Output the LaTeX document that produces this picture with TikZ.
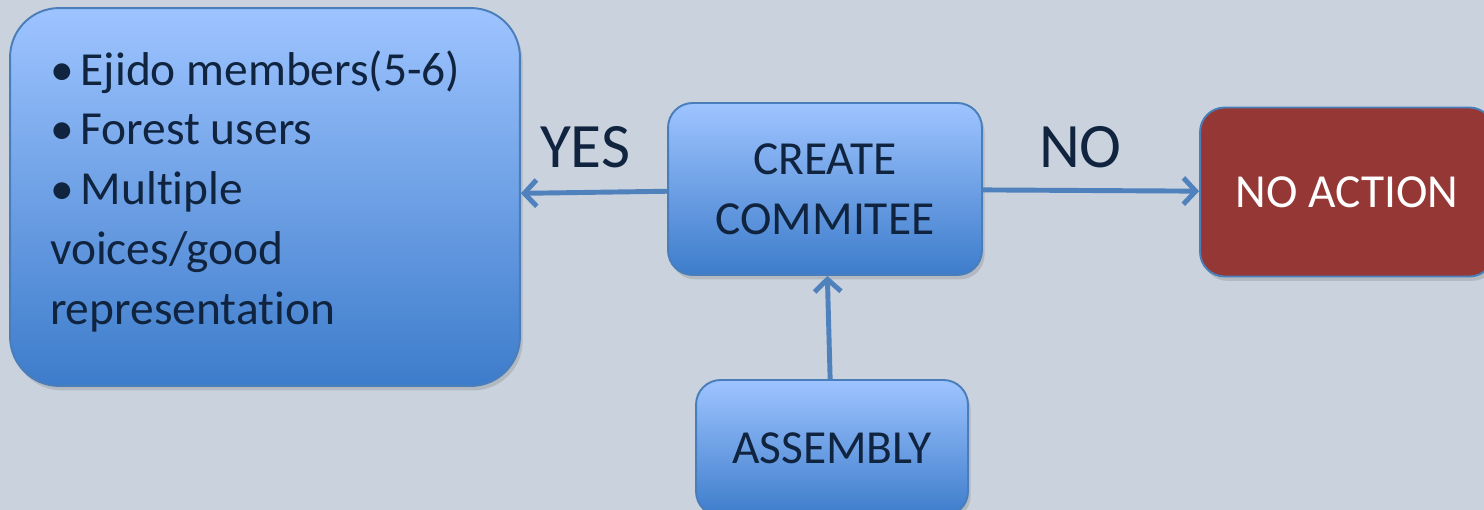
\documentclass[tikz,border=0pt]{standalone}
\usepackage{fontspec}
\setmainfont{Carlito}[Ligatures=NoCommon]
\usetikzlibrary{arrows.meta,shadows}
\definecolor{bgcol}{HTML}{C9D2DD}
\definecolor{boxtop}{HTML}{9EC4FF}
\definecolor{boxbot}{HTML}{3D7CCB}
\definecolor{edgecol}{HTML}{4A7EBB}
\definecolor{arrowcol}{HTML}{4F81BD}
\definecolor{inkcol}{HTML}{10243F}
\definecolor{redbox}{HTML}{953735}
\begin{document}
\begin{tikzpicture}[x=0.02cm,y=-0.02cm,
    stepbox/.style={draw=edgecol,line width=1.1pt,rounded corners=14pt,
      top color=boxtop,bottom color=boxbot,text=inkcol,align=center,
      font=\fontsize{27}{34}\selectfont,inner sep=0pt,
      drop shadow={opacity=0.3,shadow xshift=1.5pt,shadow yshift=-2.5pt}},
    flow/.style={draw=arrowcol,line width=2.8pt,
      -{Straight Barb[length=7pt,width=15pt]}},
    answer/.style={text=inkcol,font=\fontsize{36}{40}\selectfont}]
      \useasboundingbox (0,0) rectangle (1484,510);
      \clip (0,0) rectangle (1484,510);
      \fill[bgcol] (0,0) rectangle (1484,510);
      \draw
        (265,197) node[stepbox,rounded corners=28pt,minimum width=10.2cm,
          minimum height=7.56cm,text width=8.6cm,align=flush left] (members)
          {\textbullet\hspace{4pt}Ejido members(5-6)\\
           \textbullet\hspace{4pt}Forest users\\
           \textbullet\hspace{4pt}Multiple\\
           voices/good\\
           representat\kern0pt ion\par\vspace*{6.8pt}}
        (825,189) node[stepbox,minimum width=6.28cm,minimum height=3.44cm]
          (committee) {CREATE\\COMMITEE}
        (832,448) node[stepbox,minimum width=5.44cm,minimum height=2.72cm]
          (assembly) {ASSEMBLY}
        (1347,192) node[stepbox,fill=redbox,top color=redbox,bottom color=redbox,
          text=white,minimum width=5.88cm,minimum height=3.38cm]
          (noaction) {NO ACTION};
      \begin{scope}[flow]
        \draw (committee) to node[answer,above=9pt,xshift=-5pt] (yes) {YES} (members);
        \draw (committee) to node[answer,above=8pt,xshift=-6pt] (no) {NO} (noaction);
        \draw (assembly) to (committee);
      \end{scope}
    \end{tikzpicture}
\end{document}
